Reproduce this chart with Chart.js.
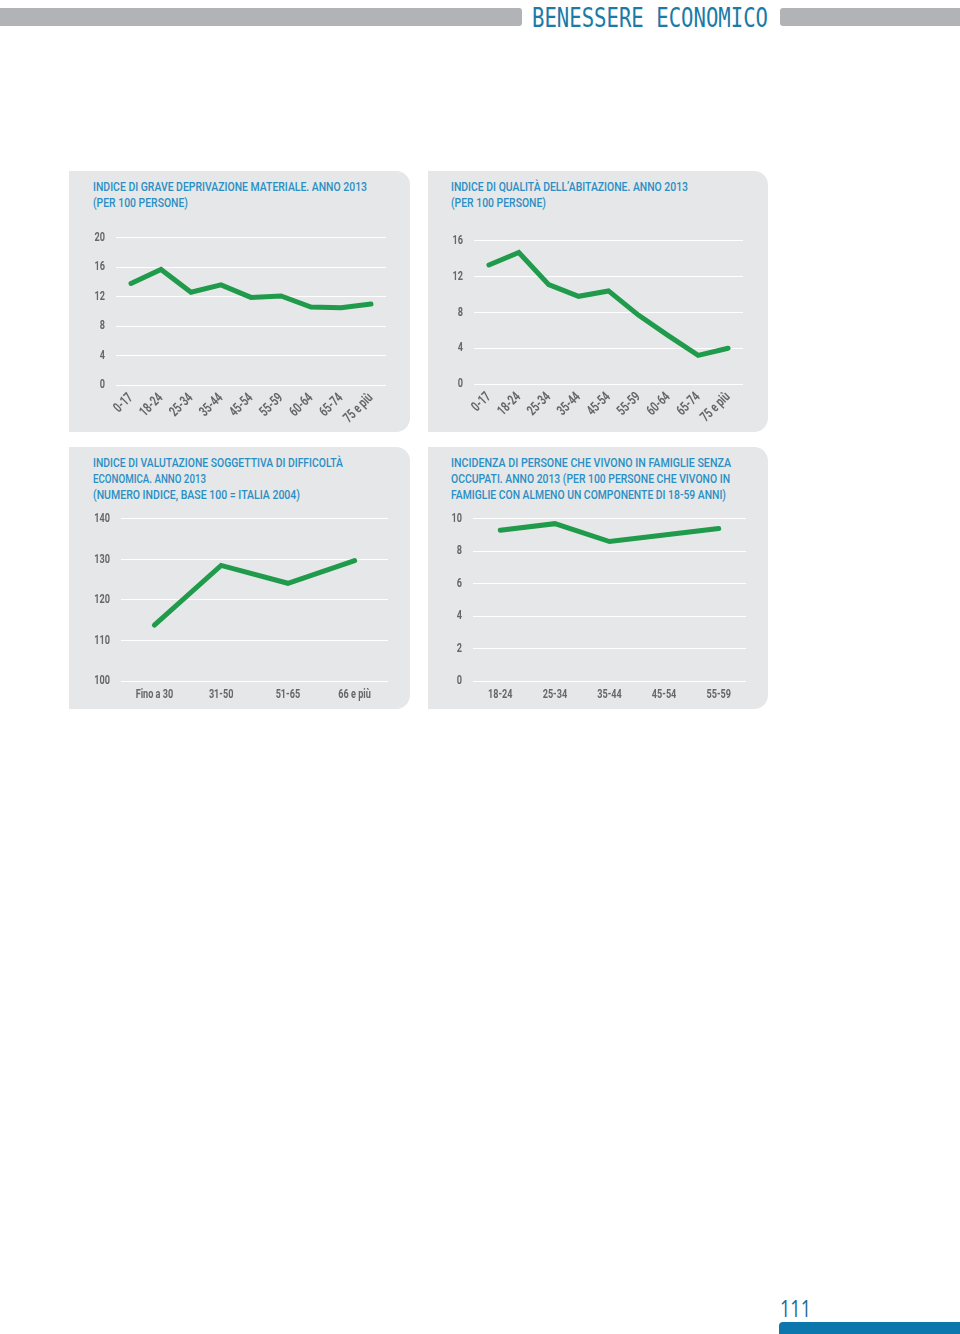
<!DOCTYPE html>
<html><head><meta charset="utf-8">
<script src="https://cdn.jsdelivr.net/npm/chart.js@4.4.0/dist/chart.umd.min.js"></script>
<style>
html,body{margin:0;padding:0;background:#fff;}
body{width:960px;height:1334px;position:relative;overflow:hidden;font-family:Roboto,"Noto Sans",sans-serif;}
.bar{position:absolute;background:#b1b3b6;}
.fit{position:absolute;white-space:nowrap;transform-origin:left top;}
.hdr{font-family:"DejaVu Sans Mono",monospace;font-size:26px;line-height:28px;color:#1b7aa6;}
.panel{position:absolute;background:#e6e7e8;border-radius:0 14px 14px 0;}
.tl{color:#2a8fc4;font-size:13px;line-height:16px;font-weight:500;}
canvas{position:absolute;}
</style></head>
<body>
<div class="bar" style="left:0;top:8px;width:522px;height:18px;border-radius:0 3px 3px 0"></div>
<div class="bar" style="left:780px;top:8px;width:180px;height:18px;border-radius:3px 0 0 3px"></div>
<div class="fit hdr" style="left:532px;top:4px" data-w="236">BENESSERE ECONOMICO</div>

<div class="panel" style="left:69px;top:171px;width:341px;height:261px"></div>
<div class="panel" style="left:428px;top:171px;width:340px;height:261px"></div>
<div class="panel" style="left:69px;top:447px;width:341px;height:262px"></div>
<div class="panel" style="left:428px;top:447px;width:340px;height:262px"></div>

<div class="fit tl" style="left:93px;top:179px" data-w="274">INDICE DI GRAVE DEPRIVAZIONE MATERIALE. ANNO 2013</div>
<div class="fit tl" style="left:93px;top:195px" data-w="95">(PER 100 PERSONE)</div>
<div class="fit tl" style="left:451px;top:179px" data-w="237">INDICE DI QUALITÀ DELL’ABITAZIONE. ANNO 2013</div>
<div class="fit tl" style="left:451px;top:195px" data-w="95">(PER 100 PERSONE)</div>
<div class="fit tl" style="left:93px;top:455px" data-w="250">INDICE DI VALUTAZIONE SOGGETTIVA DI DIFFICOLTÀ</div>
<div class="fit tl" style="left:93px;top:471px" data-w="113">ECONOMICA. ANNO 2013</div>
<div class="fit tl" style="left:93px;top:487px" data-w="207">(NUMERO INDICE, BASE 100 = ITALIA 2004)</div>
<div class="fit tl" style="left:451px;top:455px" data-w="280">INCIDENZA DI PERSONE CHE VIVONO IN FAMIGLIE SENZA</div>
<div class="fit tl" style="left:451px;top:471px" data-w="279">OCCUPATI. ANNO 2013 (PER 100 PERSONE CHE VIVONO IN</div>
<div class="fit tl" style="left:451px;top:487px" data-w="275">FAMIGLIE CON ALMENO UN COMPONENTE DI 18-59 ANNI)</div>

<canvas id="c1" width="341" height="213" style="left:69px;top:219px"></canvas>
<canvas id="c2" width="340" height="210" style="left:428px;top:222px"></canvas>
<canvas id="c3" width="341" height="209" style="left:69px;top:500px"></canvas>
<canvas id="c4" width="340" height="209" style="left:428px;top:500px"></canvas>

<div class="fit" style="left:780px;top:1294px;font-family:'Open Sans',sans-serif;font-size:23px;line-height:28px;color:#1a6a94" data-w="31">111</div>
<div style="position:absolute;left:779px;top:1322px;width:181px;height:12px;background:#0b77ad;border-radius:4px 0 0 0"></div>

<script>
// ---- data ----
const ageGroups9 = ['0-17','18-24','25-34','35-44','45-54','55-59','60-64','65-74','75 e più'];
const deprivazione = [13.8, 15.7, 12.6, 13.6, 11.9, 12.1, 10.6, 10.5, 11.0];
const yTicksDeprivazione = [0, 4, 8, 12, 16, 20];

const qualitaAbitazione = [13.3, 14.7, 11.1, 9.8, 10.4, 7.7, 5.4, 3.2, 4.0];
const yTicksQualita = [0, 4, 8, 12, 16];

const classiEta4 = ['Fino a 30','31-50','51-65','66 e più'];
const difficoltaEconomica = [113.8, 128.5, 124.1, 129.7];
const yTicksDifficolta = [100, 110, 120, 130, 140];

const ageGroups5 = ['18-24','25-34','35-44','45-54','55-59'];
const senzaOccupati = [9.3, 9.7, 8.6, 9.0, 9.4];
const yTicksSenzaOccupati = [0, 2, 4, 6, 8, 10];

// ---- fit title widths ----
document.querySelectorAll('[data-w]').forEach(el => {
  const w = el.getBoundingClientRect().width;
  el.style.transform = 'scaleX(' + (parseFloat(el.dataset.w) / w) + ')';
});

const FONT = 'Roboto, "Noto Sans", sans-serif';
const TICK = '#66676a';
const GREEN = '#1f9b4b';

// condensed tick text (horizontal squeeze around each label's anchor)
const condensedText = {
  id: 'condensedText',
  beforeDraw(chart) {
    const ctx = chart.ctx;
    if (ctx.__condensed) return;
    const orig = ctx.fillText.bind(ctx);
    ctx.fillText = function (t, x, y, mw) {
      ctx.save(); ctx.translate(x, y); ctx.scale(0.7, 1); orig(t, 0, 0); ctx.restore();
    };
    ctx.__condensed = true;
  }
};

function makeChart(id, labels, values, yTicks, g) {
  return new Chart(document.getElementById(id), {
    type: 'line',
    data: { labels: labels, datasets: [{ data: values, borderColor: GREEN, borderWidth: 5,
      pointRadius: 0, tension: 0, fill: false, borderCapStyle: 'round', borderJoinStyle: 'miter' }] },
    plugins: [condensedText],
    options: {
      responsive: false, animation: false, devicePixelRatio: 1,
      plugins: { legend: { display: false }, tooltip: { enabled: false } },
      layout: { padding: { top: 0, right: g.padRight, left: 0, bottom: 0 } },
      scales: {
        x: { type: 'category', offset: true,
             grid: { display: false, drawTicks: false }, border: { display: false },
             ticks: { color: TICK, font: { family: FONT, size: g.xSize, weight: '700' }, padding: g.xPad,
                      minRotation: g.rot, maxRotation: g.rot, autoSkip: false },
             afterFit: s => { s.height = g.xH; } },
        y: { min: yTicks[0], max: yTicks[yTicks.length - 1],
             ticks: { stepSize: yTicks[1] - yTicks[0], color: TICK, font: { family: FONT, size: 13, weight: '700' }, padding: g.yPad },
             grid: { color: '#ffffff', lineWidth: 1, drawTicks: false }, border: { display: false },
             afterFit: s => { s.width = g.yW; } }
      }
    }
  });
}

makeChart('c1', ageGroups9, deprivazione, yTicksDeprivazione, { yW: 47, xH: 47, padRight: 24, rot: 45, xPad: 5, yPad: 11, xSize: 14 });
makeChart('c2', ageGroups9, qualitaAbitazione, yTicksQualita, { yW: 46, xH: 48, padRight: 25, rot: 45, xPad: 5, yPad: 11, xSize: 14 });
makeChart('c3', classiEta4, difficoltaEconomica, yTicksDifficolta, { yW: 52, xH: 28, padRight: 22, rot: 0, xPad: 6, yPad: 11, xSize: 13 });
makeChart('c4', ageGroups5, senzaOccupati, yTicksSenzaOccupati, { yW: 45, xH: 28, padRight: 22, rot: 0, xPad: 6, yPad: 11, xSize: 13 });
</script>
</body></html>
